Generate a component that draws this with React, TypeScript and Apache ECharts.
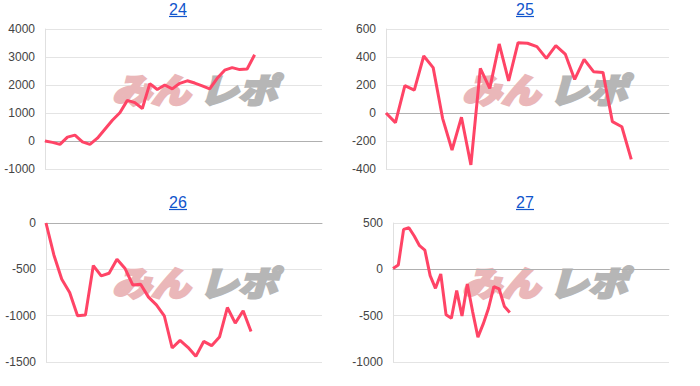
import React, { useEffect, useRef } from "react";
import * as echarts from "echarts";

const titles = ["24", "25", "26", "27"];
const categoryCounts = [38, 31, 36, 53];

const values24 = [0, -50, -120, 140, 210, -30, -120, 100, 420, 740, 1010, 1450, 1370, 1160, 2050, 1840, 2000, 1860, 2060, 2150, 2070, 1970, 1860, 2240, 2530, 2620, 2550, 2570, 3080];
const values25 = [0, -69, 195, 164, 407, 324, -38, -264, -30, -371, 319, 176, 493, 229, 502, 498, 474, 390, 481, 421, 240, 383, 295, 290, -62, -98, -331];
const values26 = [0, -345, -607, -750, -1001, -994, -459, -571, -542, -391, -488, -668, -660, -800, -883, -1001, -1349, -1267, -1342, -1439, -1278, -1324, -1231, -912, -1080, -947, -1170];
const values27 = [10, 47, 431, 449, 359, 255, 208, -68, -205, -50, -491, -527, -230, -503, -158, -456, -732, -589, -420, -187, -212, -402, -467];

const seriesValues = [values24, values25, values26, values27];

const yMins = [-1000, -400, -1500, -1000];
const yMaxs = [4000, 600, 0, 500];
const yIntervals = [1000, 200, 500, 500];

const watermarkLeft = "みん";
const watermarkRight = "レポ";

export default function App() {
  const ref = useRef<HTMLDivElement>(null);

  useEffect(() => {
    if (!ref.current) return;
    const chart = echarts.init(ref.current, undefined, { renderer: "svg" });

    const grids = [
      { left: 45, top: 29, width: 277, height: 140 },
      { left: 386, top: 29, width: 283, height: 140 },
      { left: 46, top: 223, width: 276, height: 139 },
      { left: 393, top: 223, width: 276, height: 139 },
    ];
    const origins = [
      [0, 0],
      [350, 0],
      [0, 193],
      [350, 193],
    ];
    const titleX = [178, 525, 178, 525];

    const font = 'Arial, "Liberation Sans", sans-serif';

    const graphic: any[] = [];
    titles.forEach((t, i) => {
      const cx = titleX[i];
      const cy = origins[i][1] + 9.5;
      graphic.push({
        type: "text",
        z: 10,
        style: {
          text: t,
          x: cx,
          y: cy,
          textAlign: "center",
          textVerticalAlign: "middle",
          fontSize: 16,
          fontFamily: font,
          fill: "#1155cc",
        },
      });
      graphic.push({
        type: "line",
        z: 10,
        shape: { x1: cx - 9, y1: cy + 7, x2: cx + 9, y2: cy + 7 },
        style: { stroke: "#1155cc", lineWidth: 1.2 },
      });
      const ox = origins[i][0];
      const oy = origins[i][1];
      graphic.push({
        type: "text",
        z: 1,
        x: ox + 151,
        y: oy + 89,
        scaleX: 1.15,
        style: {
          text: watermarkLeft,
          x: 0,
          y: 0,
          textAlign: "center",
          textVerticalAlign: "middle",
          fontSize: 34,
          fontWeight: 900,
          fontStyle: "italic",
          fontFamily: '"Noto Sans CJK JP", sans-serif',
          fill: "#eab7b9",
          stroke: "#eab7b9",
          lineWidth: 2.5,
        },
      });
      graphic.push({
        type: "text",
        z: 1,
        x: ox + 238,
        y: oy + 89,
        scaleX: 1.15,
        style: {
          text: watermarkRight,
          x: 0,
          y: 0,
          textAlign: "center",
          textVerticalAlign: "middle",
          fontSize: 34,
          fontWeight: 900,
          fontStyle: "italic",
          fontFamily: '"Noto Sans CJK JP", sans-serif',
          fill: "#b6b6b6",
          stroke: "#b6b6b6",
          lineWidth: 2.5,
        },
      });
    });

    const option: any = {
      animation: false,
      grid: grids.map((g) => ({ ...g, containLabel: false })),
      xAxis: categoryCounts.map((n, i) => ({
        type: "category",
        gridIndex: i,
        data: Array.from({ length: n }, (_, k) => String(k + 1)),
        boundaryGap: false,
        axisLabel: { show: false },
        axisTick: { show: false },
        splitLine: { show: false },
        axisLine: { show: true, onZero: true, lineStyle: { color: "#b0b0b0", width: 1 } },
        z: 1,
      })),
      yAxis: yMins.map((mn, i) => ({
        type: "value",
        gridIndex: i,
        min: mn,
        max: yMaxs[i],
        interval: yIntervals[i],
        axisLine: { show: true, lineStyle: { color: "#e0e0e0" } },
        axisTick: { show: false },
        axisLabel: {
          margin: 10,
          fontSize: 12,
          color: "#444",
          fontFamily: font,
          formatter: (v: number) => String(v),
        },
        splitLine: { show: true, lineStyle: { color: "#e4e4e4", width: 1 } },
        z: 0,
      })),
      series: seriesValues.map((vals, i) => ({
        type: "line",
        xAxisIndex: i,
        yAxisIndex: i,
        data: vals,
        showSymbol: false,
        symbol: "none",
        lineStyle: { color: "#ff4466", width: 3 },
        itemStyle: { color: "#ff4466" },
        z: 5,
      })),
      graphic,
    };

    chart.setOption(option);
    return () => chart.dispose();
  }, []);

  return (
    <div
      ref={ref}
      style={{ position: "fixed", left: 0, top: 0, width: 700, height: 386, background: "#fff" }}
    />
  );
}
